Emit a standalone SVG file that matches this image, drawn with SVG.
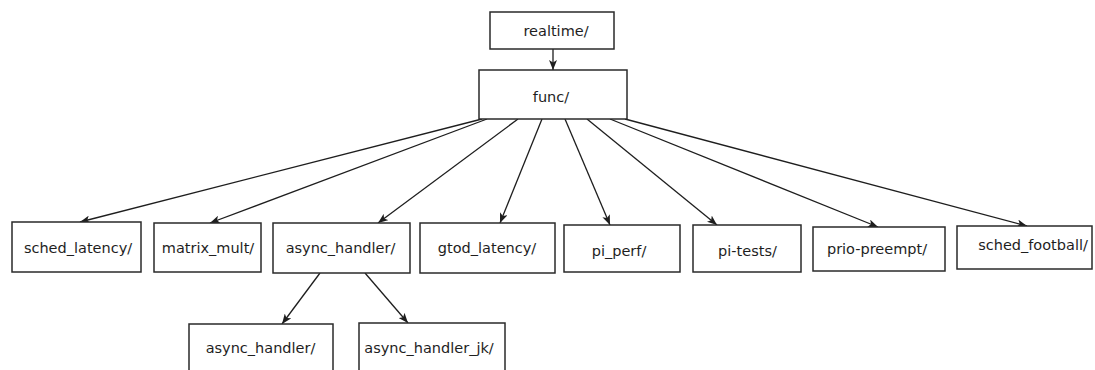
<svg xmlns="http://www.w3.org/2000/svg" width="1095" height="370" viewBox="0 0 1095 370">
  <style>
    .box { fill: #ffffff; stroke: #2a2a2a; stroke-width: 1.5; }
    .lbl { font-family: "DejaVu Sans", "Liberation Sans", sans-serif; font-size: 14.5px; fill: #1e1e1e; text-anchor: middle; }
    .edge { stroke: #1e1e1e; stroke-width: 1.3; fill: none; marker-end: url(#arrow); }
  </style>
  <defs>
    <marker id="arrow" viewBox="0 0 10 8" refX="10" refY="4" markerWidth="10" markerHeight="8" markerUnits="userSpaceOnUse" orient="auto">
      <path d="M0,0 L10,4 L0,8 L2.5,4 Z" fill="#1e1e1e"/>
    </marker>
  </defs>
  <rect width="1095" height="370" fill="#ffffff"/>

  <!-- connectors -->
  <g id="connectors">
    <line class="edge" x1="553" y1="49" x2="553" y2="70"/>
    <line class="edge" x1="482" y1="119" x2="80" y2="222"/>
    <line class="edge" x1="487" y1="119" x2="210" y2="223"/>
    <line class="edge" x1="518" y1="119" x2="378" y2="223"/>
    <line class="edge" x1="542" y1="119" x2="500" y2="223"/>
    <line class="edge" x1="565" y1="119" x2="610" y2="225"/>
    <line class="edge" x1="587" y1="119" x2="717" y2="225"/>
    <line class="edge" x1="610" y1="119" x2="878" y2="227"/>
    <line class="edge" x1="625" y1="119" x2="1027" y2="226"/>
    <line class="edge" x1="320" y1="273" x2="282" y2="324"/>
    <line class="edge" x1="365" y1="273" x2="408" y2="323"/>
  </g>

  <g id="realtime">
    <rect class="box" x="490" y="12" width="124" height="37"/>
    <text class="lbl" x="556" y="36">realtime/</text>
  </g>
  <g id="func">
    <rect class="box" x="479" y="70" width="148" height="49"/>
    <text class="lbl" x="551" y="102">func/</text>
  </g>
  <g id="sched_latency">
    <rect class="box" x="12" y="222" width="129" height="50"/>
    <text class="lbl" x="78" y="253">sched_latency/</text>
  </g>
  <g id="matrix_mult">
    <rect class="box" x="154" y="223" width="107" height="49"/>
    <text class="lbl" x="208" y="253">matrix_mult/</text>
  </g>
  <g id="async_handler">
    <rect class="box" x="273" y="223" width="137" height="50"/>
    <text class="lbl" x="340.5" y="253">async_handler/</text>
  </g>
  <g id="gtod_latency">
    <rect class="box" x="420" y="223" width="135" height="50"/>
    <text class="lbl" x="487" y="253">gtod_latency/</text>
  </g>
  <g id="pi_perf">
    <rect class="box" x="564" y="225" width="116" height="47"/>
    <text class="lbl" x="619" y="256">pi_perf/</text>
  </g>
  <g id="pi-tests">
    <rect class="box" x="693" y="225" width="108" height="47"/>
    <text class="lbl" x="747.5" y="256">pi-tests/</text>
  </g>
  <g id="prio-preempt">
    <rect class="box" x="813" y="227" width="132" height="44"/>
    <text class="lbl" x="877" y="254">prio-preempt/</text>
  </g>
  <g id="sched_football">
    <rect class="box" x="957" y="226" width="135" height="43"/>
    <text class="lbl" x="1033" y="250">sched_football/</text>
  </g>
  <g id="async_handler_sub">
    <rect class="box" x="189" y="324" width="144" height="60"/>
    <text class="lbl" x="260.5" y="353">async_handler/</text>
  </g>
  <g id="async_handler_jk">
    <rect class="box" x="359" y="323" width="146" height="60"/>
    <text class="lbl" x="429" y="353">async_handler_jk/</text>
  </g>
</svg>
